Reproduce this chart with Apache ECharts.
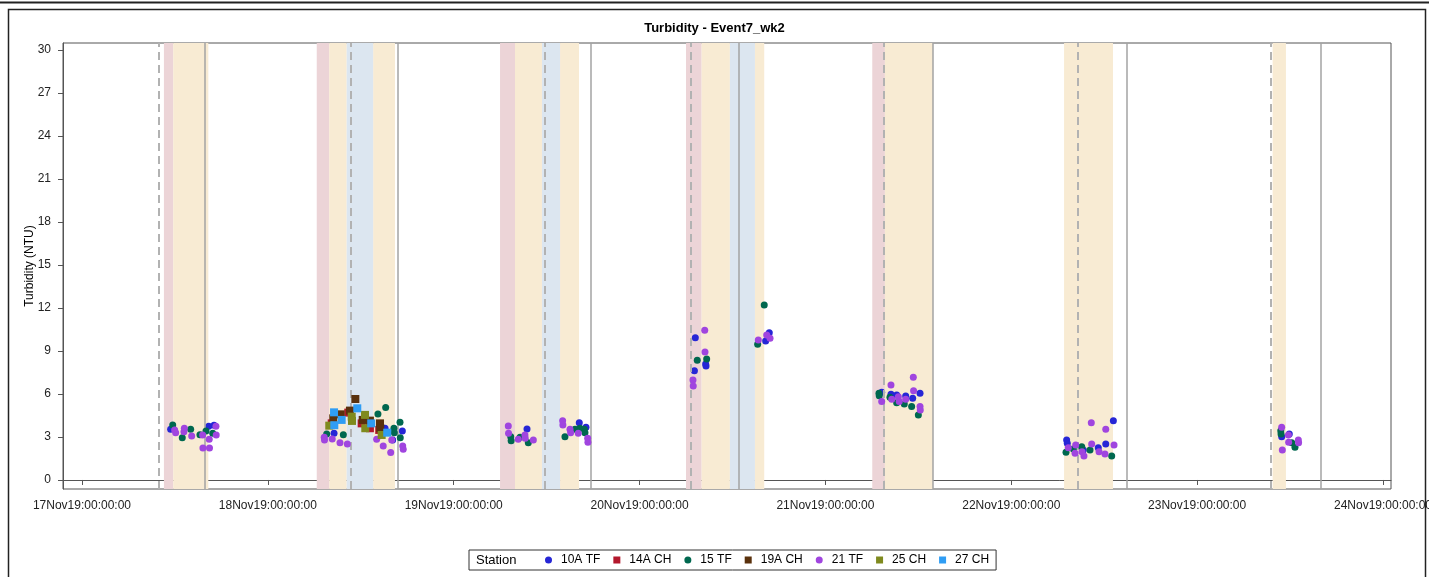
<!DOCTYPE html>
<html>
<head>
<meta charset="utf-8">
<title>Turbidity - Event7_wk2</title>
<script src="https://cdn.jsdelivr.net/npm/echarts@6/dist/echarts.min.js"></script>
<style>
  html, body { margin: 0; padding: 0; background: #fff; }
  #chart { width: 1429px; height: 577px; }
</style>
</head>
<body>
<div id="chart"></div>
<script>
// Station readings: [date-time, turbidity NTU]
const st10A_TF = [
  ['2019-11-17 11:27', 3.54], ['2019-11-17 16:22', 3.74], ['2019-11-17 17:03', 3.82],
  ['2019-11-18 08:33', 3.26], ['2019-11-18 15:08', 3.61], ['2019-11-18 16:07', 2.79], ['2019-11-18 17:22', 3.42],
  ['2019-11-19 09:28', 3.56], ['2019-11-19 16:13', 4.00], ['2019-11-19 17:05', 3.68],
  ['2019-11-20 07:12', 9.93], ['2019-11-20 07:05', 7.62], ['2019-11-20 08:32', 8.09], ['2019-11-20 08:35', 7.96],
  ['2019-11-20 16:17', 9.70], ['2019-11-20 16:45', 10.28],
  ['2019-11-21 07:16', 6.12], ['2019-11-21 08:28', 5.98], ['2019-11-21 09:12', 5.93], ['2019-11-21 10:22', 5.86],
  ['2019-11-21 11:16', 5.70], ['2019-11-21 12:13', 6.05],
  ['2019-11-22 07:09', 2.79], ['2019-11-22 07:14', 2.56], ['2019-11-22 09:18', 2.09], ['2019-11-22 11:14', 2.25],
  ['2019-11-22 12:12', 2.51], ['2019-11-22 13:11', 4.14],
  ['2019-11-23 10:55', 3.02], ['2019-11-23 11:54', 3.21]
];
const st14A_CH = [
  ['2019-11-18 08:15', 3.95], ['2019-11-18 10:23', 4.70], ['2019-11-18 12:07', 3.95],
  ['2019-11-18 13:11', 3.61], ['2019-11-18 14:23', 3.49]
];
const st15_TF = [
  ['2019-11-17 11:43', 3.84], ['2019-11-17 12:57', 2.95], ['2019-11-17 14:02', 3.54], ['2019-11-17 15:14', 3.16],
  ['2019-11-17 16:01', 3.42], ['2019-11-17 16:53', 3.26],
  ['2019-11-18 07:36', 3.21], ['2019-11-18 09:45', 3.16], ['2019-11-18 14:13', 4.61], ['2019-11-18 15:13', 5.05],
  ['2019-11-18 16:17', 3.61], ['2019-11-18 16:20', 3.30], ['2019-11-18 17:04', 4.03], ['2019-11-18 17:06', 2.95],
  ['2019-11-19 07:22', 3.02], ['2019-11-19 07:25', 2.74], ['2019-11-19 08:34', 2.98], ['2019-11-19 09:38', 2.60],
  ['2019-11-19 14:22', 3.02], ['2019-11-19 15:40', 3.54], ['2019-11-19 16:18', 3.61], ['2019-11-19 16:52', 3.54],
  ['2019-11-19 16:57', 3.30],
  ['2019-11-20 07:27', 8.35], ['2019-11-20 08:40', 8.44], ['2019-11-20 15:15', 9.47], ['2019-11-20 16:06', 12.21],
  ['2019-11-21 06:55', 6.05], ['2019-11-21 06:57', 5.88], ['2019-11-21 08:20', 5.77], ['2019-11-21 09:12', 5.39],
  ['2019-11-21 10:11', 5.30], ['2019-11-21 11:08', 5.12], ['2019-11-21 12:00', 4.54],
  ['2019-11-22 07:04', 1.93], ['2019-11-22 08:01', 2.16], ['2019-11-22 09:06', 2.32], ['2019-11-22 10:10', 2.09],
  ['2019-11-22 12:58', 1.67],
  ['2019-11-23 10:48', 3.44], ['2019-11-23 10:50', 3.21], ['2019-11-23 12:13', 2.60], ['2019-11-23 12:38', 2.28]
];
const st19A_CH = [
  ['2019-11-18 08:27', 4.30], ['2019-11-18 09:24', 4.58], ['2019-11-18 10:36', 4.84], ['2019-11-18 11:18', 5.65],
  ['2019-11-18 12:15', 4.19], ['2019-11-18 13:11', 4.14], ['2019-11-18 14:29', 3.95], ['2019-11-18 14:31', 3.61]
];
const st21_TF = [
  ['2019-11-17 11:58', 3.49], ['2019-11-17 12:06', 3.30], ['2019-11-17 13:10', 3.37], ['2019-11-17 13:13', 3.61],
  ['2019-11-17 14:10', 3.07], ['2019-11-17 15:35', 3.14], ['2019-11-17 15:37', 2.23], ['2019-11-17 16:26', 2.84],
  ['2019-11-17 16:28', 2.23], ['2019-11-17 17:18', 3.74], ['2019-11-17 17:20', 3.14],
  ['2019-11-18 07:17', 2.98], ['2019-11-18 07:19', 2.79], ['2019-11-18 08:19', 2.86], ['2019-11-18 09:19', 2.60],
  ['2019-11-18 10:16', 2.51], ['2019-11-18 14:03', 2.84], ['2019-11-18 14:54', 2.37], ['2019-11-18 15:52', 1.91],
  ['2019-11-18 16:00', 2.79], ['2019-11-18 17:25', 2.37], ['2019-11-18 17:29', 2.14],
  ['2019-11-19 07:03', 3.77], ['2019-11-19 07:05', 3.26], ['2019-11-19 08:20', 2.84], ['2019-11-19 09:12', 3.14],
  ['2019-11-19 09:14', 2.91], ['2019-11-19 10:17', 2.79], ['2019-11-19 14:04', 4.14], ['2019-11-19 14:06', 3.84],
  ['2019-11-19 15:01', 3.54], ['2019-11-19 15:06', 3.30], ['2019-11-19 16:05', 3.26], ['2019-11-19 17:18', 2.91],
  ['2019-11-19 17:20', 2.63],
  ['2019-11-20 06:54', 6.98], ['2019-11-20 06:56', 6.56], ['2019-11-20 08:25', 10.45], ['2019-11-20 08:27', 8.93],
  ['2019-11-20 15:20', 9.77], ['2019-11-20 16:25', 10.12], ['2019-11-20 16:51', 9.89],
  ['2019-11-21 07:16', 5.47], ['2019-11-21 08:28', 6.63], ['2019-11-21 08:34', 5.63], ['2019-11-21 09:25', 5.81],
  ['2019-11-21 09:32', 5.47], ['2019-11-21 10:22', 5.63], ['2019-11-21 11:21', 7.17], ['2019-11-21 11:23', 6.23],
  ['2019-11-21 12:13', 5.12], ['2019-11-21 12:15', 4.89],
  ['2019-11-22 07:22', 2.25], ['2019-11-22 08:14', 1.86], ['2019-11-22 08:19', 2.44], ['2019-11-22 09:08', 1.97],
  ['2019-11-22 09:23', 1.67], ['2019-11-22 10:20', 4.00], ['2019-11-22 10:23', 2.51], ['2019-11-22 11:20', 1.97],
  ['2019-11-22 12:06', 1.81], ['2019-11-22 12:12', 3.54], ['2019-11-22 13:16', 2.44],
  ['2019-11-23 10:55', 3.68], ['2019-11-23 11:00', 2.09], ['2019-11-23 11:47', 3.14], ['2019-11-23 11:49', 2.63],
  ['2019-11-23 13:04', 2.79], ['2019-11-23 13:06', 2.60]
];
const st25_CH = [
  ['2019-11-18 07:56', 3.79], ['2019-11-18 10:50', 4.42], ['2019-11-18 10:52', 4.12], ['2019-11-18 12:33', 4.54],
  ['2019-11-18 12:35', 3.61], ['2019-11-18 14:42', 3.14]
];
const st27_CH = [
  ['2019-11-18 08:33', 4.72], ['2019-11-18 08:35', 3.82], ['2019-11-18 09:32', 4.19], ['2019-11-18 11:33', 5.00],
  ['2019-11-18 13:21', 3.95], ['2019-11-18 15:25', 3.30]
];

// Shaded periods [start, end] and reference times
const pinkBands = [
  ['2019-11-17 10:35', '2019-11-17 11:47'], ['2019-11-18 06:19', '2019-11-18 07:55'],
  ['2019-11-19 05:59', '2019-11-19 07:55'], ['2019-11-20 06:00', '2019-11-20 08:01'],
  ['2019-11-21 06:03', '2019-11-21 07:41']
];
const tanBands = [
  ['2019-11-17 11:47', '2019-11-17 16:19'], ['2019-11-18 07:55', '2019-11-18 10:11'],
  ['2019-11-18 13:36', '2019-11-18 16:25'], ['2019-11-19 07:55', '2019-11-19 11:24'],
  ['2019-11-19 13:44', '2019-11-19 16:11'], ['2019-11-20 08:01', '2019-11-20 11:40'],
  ['2019-11-20 14:54', '2019-11-20 16:06'], ['2019-11-21 07:41', '2019-11-21 13:54'],
  ['2019-11-22 06:49', '2019-11-22 13:08'], ['2019-11-23 09:45', '2019-11-23 11:28']
];
const blueBands = [
  ['2019-11-18 10:11', '2019-11-18 13:36'], ['2019-11-19 11:24', '2019-11-19 13:44'],
  ['2019-11-20 11:40', '2019-11-20 14:54']
];
const dashedTimes = [
  '2019-11-17 09:54', '2019-11-18 10:44', '2019-11-19 11:47', '2019-11-20 06:36',
  '2019-11-21 07:34', '2019-11-22 08:34', '2019-11-23 09:32'
];
const solidTimes = [
  '2019-11-17 15:50', '2019-11-18 16:47', '2019-11-19 17:44', '2019-11-20 12:45',
  '2019-11-21 13:54', '2019-11-22 14:57', '2019-11-23 15:59'
];

// Axis ticks
const xTickDates = ['2019-11-17 00:00', '2019-11-18 00:00', '2019-11-19 00:00', '2019-11-20 00:00',
  '2019-11-21 00:00', '2019-11-22 00:00', '2019-11-23 00:00', '2019-11-24 00:00'];
const yTicks = [0, 3, 6, 9, 12, 15, 18, 21, 24, 27, 30];
const xRange = ['2019-11-16 21:33', '2019-11-24 01:02'];
const yRange = [-0.63, 30.49];

// Times are read as UTC milliseconds so the drawing does not depend on the machine's zone
function ts(s) {
  const m = s.match(/(\d+)-(\d+)-(\d+) (\d+):(\d+)/);
  return Date.UTC(+m[1], +m[2] - 1, +m[3], +m[4], +m[5]);
}
const pts = arr => arr.map(d => [ts(d[0]), d[1]]);
const pad = n => String(n).padStart(2, '0');
const MON = ['Jan','Feb','Mar','Apr','May','Jun','Jul','Aug','Sep','Oct','Nov','Dec'];
function sasDate(v) {
  const d = new Date(v);
  return pad(d.getUTCDate()) + MON[d.getUTCMonth()] + String(d.getUTCFullYear()).slice(2) + ':' +
    pad(d.getUTCHours()) + ':' + pad(d.getUTCMinutes()) + ':' + pad(d.getUTCSeconds());
}

const stations = [
  { name: '10A TF', data: st10A_TF, symbol: 'circle', color: '#2626d6' },
  { name: '14A CH', data: st14A_CH, symbol: 'rect',   color: '#b3182c' },
  { name: '15 TF',  data: st15_TF,  symbol: 'circle', color: '#00684f' },
  { name: '19A CH', data: st19A_CH, symbol: 'rect',   color: '#5a310c' },
  { name: '21 TF',  data: st21_TF,  symbol: 'circle', color: '#a045df' },
  { name: '25 CH',  data: st25_CH,  symbol: 'rect',   color: '#7f8a1e' },
  { name: '27 CH',  data: st27_CH,  symbol: 'rect',   color: '#2f9df4' }
];

const bandArea = (list, color) => list.map(b => [
  { xAxis: ts(b[0]), itemStyle: { color: color } },
  { xAxis: ts(b[1]) }
]);

const chart = echarts.init(document.getElementById('chart'), null, { renderer: 'canvas' });

const FONT = '"Liberation Sans", Arial, sans-serif';

const option = {
  animation: false,
  backgroundColor: '#ffffff',
  textStyle: { fontFamily: FONT },
  title: {
    text: 'Turbidity - Event7_wk2',
    left: 'center',
    top: 17,
    textStyle: { fontFamily: FONT, fontSize: 13, fontWeight: 'bold', color: '#000' }
  },
  grid: {
    left: 63, right: 38, top: 43, bottom: 88,
    outerBoundsMode: 'none',
    show: true, borderColor: '#555', borderWidth: 1, backgroundColor: 'transparent'
  },
  legend: {
    left: 469, top: 550,
    padding: [4, 7, 4, 76],
    borderColor: '#333', borderWidth: 1,
    itemWidth: 7, itemHeight: 7, itemGap: 13,
    textStyle: { fontFamily: FONT, fontSize: 12, color: '#000', padding: [0, 0, 0, 4] },
    data: stations.map(s => ({ name: s.name, icon: s.symbol }))
  },
  graphic: [
    { type: 'line', shape: { x1: 0, y1: 2.5, x2: 1429, y2: 2.5 }, style: { stroke: '#222', lineWidth: 2 }, silent: true },
    { type: 'rect', shape: { x: 8.5, y: 9.5, width: 1417, height: 600 }, style: { fill: 'none', stroke: '#222', lineWidth: 1.5 }, silent: true },
    { type: 'text', left: 476, top: 554, style: { text: 'Station', font: '13px ' + FONT, fill: '#000' }, silent: true }
  ],
  xAxis: {
    type: 'value',
    min: ts(xRange[0]), max: ts(xRange[1]),
    axisLine: { lineStyle: { color: '#555', width: 1 } },
    axisTick: { show: true, length: 5, lineStyle: { color: '#555' }, customValues: xTickDates.map(ts) },
    axisLabel: {
      customValues: xTickDates.map(ts),
      formatter: v => sasDate(v),
      fontFamily: FONT, fontSize: 12, color: '#222', margin: 11, hideOverlap: false
    },
    splitLine: { show: false }
  },
  yAxis: {
    type: 'value',
    min: yRange[0], max: yRange[1],
    name: 'Turbidity (NTU)',
    nameLocation: 'middle',
    nameGap: 27,
    nameMoveOverlap: false,
    nameTextStyle: { fontFamily: FONT, fontSize: 12, color: '#000' },
    axisLine: { show: true, lineStyle: { color: '#555', width: 1 } },
    axisTick: { show: true, length: 5, lineStyle: { color: '#555' }, customValues: yTicks },
    axisLabel: { customValues: yTicks, fontFamily: FONT, fontSize: 12, color: '#222', margin: 12 },
    splitLine: { show: false }
  },
  series: [
    {
      name: 'periods', type: 'scatter', data: [], z: 1, silent: true,
      markArea: {
        silent: true,
        data: [].concat(
          bandArea(pinkBands, '#ecd4d7'),
          bandArea(tanBands, '#f8ebd3'),
          bandArea(blueBands, '#dce6f0')
        )
      }
    },
    {
      name: 'markers', type: 'scatter', data: [], z: 2, silent: true,
      markLine: {
        silent: true, symbol: ['none', 'none'], label: { show: false },
        data: [].concat(
          dashedTimes.map(t => ({ xAxis: ts(t), lineStyle: { color: '#b2b2b2', width: 2, type: [8, 5] } })),
          solidTimes.map(t => ({ xAxis: ts(t), lineStyle: { color: '#a3a3a3', width: 1.5, type: 'solid' } }))
        )
      }
    }
  ].concat(stations.map((s, i) => ({
    name: s.name,
    type: 'scatter',
    symbol: s.symbol,
    symbolSize: s.symbol === 'rect' ? 8 : 7,
    z: 3 + i,
    itemStyle: { color: s.color, opacity: 1 },
    data: pts(s.data)
  })))
};

chart.setOption(option);
</script>
</body>
</html>
